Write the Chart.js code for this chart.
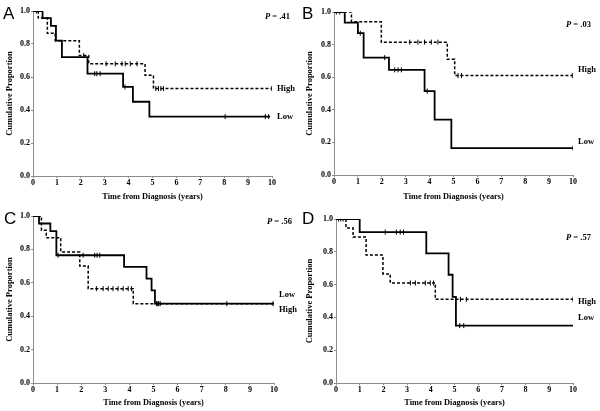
<!DOCTYPE html>
<html>
<head>
<meta charset="utf-8">
<script src="https://cdn.jsdelivr.net/npm/chart.js@4"></script>
<style>
  html, body { margin: 0; padding: 0; background: #fff; }
  #wrap { position: relative; width: 600px; height: 411px; }
  canvas { position: absolute; }
</style>
</head>
<body>
<div id="wrap">
  <canvas id="cA" width="300" height="205" style="left:0;top:0"></canvas>
  <canvas id="cB" width="300" height="205" style="left:300px;top:0"></canvas>
  <canvas id="cC" width="300" height="206" style="left:0;top:205px"></canvas>
  <canvas id="cD" width="300" height="206" style="left:300px;top:205px"></canvas>
</div>
<script>
// Kaplan-Meier curves, times in years and cumulative proportion
const xTicks = [0, 1, 2, 3, 4, 5, 6, 7, 8, 9, 10]
const yTicks = [0, 0.2, 0.4, 0.6, 0.8, 1.0]

// Panel A
const aLowT = [0, 0.40, 0.75, 0.96, 1.21, 2.28, 3.77, 4.18, 4.87, 9.92]
const aLowS = [1, 0.957, 0.91, 0.82, 0.72, 0.62, 0.54, 0.45, 0.36, 0.36]
const aLowCensT = [0.14, 2.58, 2.67, 2.81, 3.85, 8.04, 9.72, 9.86]
const aLowCensS = [1, 0.62, 0.62, 0.62, 0.54, 0.36, 0.36, 0.36]
const aHighT = [0, 0.22, 0.60, 0.93, 1.94, 2.33, 4.69, 5.04, 9.99]
const aHighS = [1, 0.957, 0.865, 0.82, 0.73, 0.68, 0.61, 0.53, 0.53]
const aHighCensT = [2.12, 3.06, 3.44, 3.72, 3.86, 4.07, 4.35, 5.14, 5.25, 5.35, 5.46, 9.99]
const aHighCensS = [0.73, 0.68, 0.68, 0.68, 0.68, 0.68, 0.68, 0.53, 0.53, 0.53, 0.53, 0.53]

// Panel B
const bLowT = [0, 0.45, 1.0, 1.24, 2.30, 3.79, 4.21, 4.91, 10.0]
const bLowS = [1, 0.935, 0.87, 0.72, 0.645, 0.515, 0.34, 0.165, 0.165]
const bLowCensT = [0.1, 0.24, 1.1, 2.12, 2.54, 2.68, 2.82, 3.9, 10.0]
const bLowCensS = [1, 1, 0.87, 0.72, 0.645, 0.645, 0.645, 0.515, 0.165]
const bHighT = [0, 0.73, 1.98, 4.74, 5.05, 9.97]
const bHighS = [1, 0.94, 0.815, 0.71, 0.61, 0.61]
const bHighCensT = [3.17, 3.51, 3.79, 4.07, 4.35, 5.19, 5.33, 9.97]
const bHighCensS = [0.815, 0.815, 0.815, 0.815, 0.815, 0.61, 0.61, 0.61]

// Panel C
const cLowT = [0, 0.25, 0.72, 0.97, 3.78, 4.71, 4.92, 5.06, 10]
const cLowS = [1, 0.955, 0.91, 0.765, 0.695, 0.625, 0.555, 0.475, 0.475]
const cLowCensT = [1.04, 2.08, 2.56, 2.66, 2.77, 5.12, 5.2, 5.28, 8.04, 9.96]
const cLowCensS = [0.765, 0.765, 0.765, 0.765, 0.765, 0.475, 0.475, 0.475, 0.475, 0.475]
const cHighT = [0, 0.35, 0.55, 1.15, 1.94, 2.29, 4.16, 10]
const cHighS = [1, 0.915, 0.87, 0.785, 0.70, 0.565, 0.475, 0.475]
const cHighCensT = [2.63, 2.91, 3.12, 3.32, 3.53, 3.74, 3.95, 4.09, 5.15, 5.22]
const cHighCensS = [0.565, 0.565, 0.565, 0.565, 0.565, 0.565, 0.565, 0.565, 0.475, 0.475]

// Panel D
const dLowT = [0, 1.0, 3.81, 4.75, 4.92, 5.06, 10.0]
const dLowS = [1, 0.92, 0.79, 0.66, 0.525, 0.35, 0.35]
const dLowCensT = [0.11, 0.3, 2.08, 2.55, 2.71, 2.85, 5.22, 5.39]
const dLowCensS = [1, 1, 0.92, 0.92, 0.92, 0.92, 0.35, 0.35]
const dHighT = [0, 0.42, 0.72, 1.27, 1.98, 2.29, 4.19, 10]
const dHighS = [1, 0.945, 0.89, 0.78, 0.665, 0.61, 0.51, 0.51]
const dHighCensT = [0.2, 3.14, 3.35, 3.77, 3.98, 4.12, 5.25, 5.5, 10]
const dHighCensS = [1, 0.61, 0.61, 0.61, 0.61, 0.61, 0.51, 0.51, 0.51]

const panels = [
   { id: 'cA', letter: 'A', p: '.41', pY: 0.966, letterX: 3,
     low: [aLowT, aLowS, aLowCensT, aLowCensS], high: [aHighT, aHighS, aHighCensT, aHighCensS],
     lowLabelY: 0.36, highLabelY: 0.53,
     area: { left: 33, right: 272, top: 11, bottom: 176 } },
   { id: 'cB', letter: 'B', p: '.03', pY: 0.922, letterX: 2,
     low: [bLowT, bLowS, bLowCensT, bLowCensS], high: [bHighT, bHighS, bHighCensT, bHighCensS],
     lowLabelY: 0.205, highLabelY: 0.645,
     area: { left: 34, right: 273, top: 12, bottom: 175 } },
   { id: 'cC', letter: 'C', p: '.56', pY: 0.964, letterX: 4,
     low: [cLowT, cLowS, cLowCensT, cLowCensS], high: [cHighT, cHighS, cHighCensT, cHighCensS],
     lowLabelY: 0.529, highLabelY: 0.441,
     area: { left: 33, right: 274, top: 11, bottom: 178 } },
   { id: 'cD', letter: 'D', p: '.57', pY: 0.888, letterX: 2,
     low: [dLowT, dLowS, dLowCensT, dLowCensS], high: [dHighT, dHighS, dHighCensT, dHighCensS],
     lowLabelY: 0.40, highLabelY: 0.497,
     area: { left: 36, right: 273, top: 14, bottom: 178 } }
]

const SERIF = "'Liberation Serif', 'Times New Roman', serif"
const AXIS_GRAY = '#8c8c8c'

function toPoints(xs, ys) {
   return xs.map((x, i) => ({ x: x, y: ys[i] }))
}

const annotatePlugin = {
   id: 'annotate',
   afterDraw(chart, args, opts) {
      const ctx = chart.ctx
      const area = chart.chartArea
      const y = chart.scales.y
      ctx.save()
      ctx.fillStyle = '#000'
      ctx.textBaseline = 'middle'
      ctx.textAlign = 'left'
      ctx.font = 'bold 8.5px ' + SERIF
      ctx.fillText('High', area.right + 5, y.getPixelForValue(opts.highLabelY))
      ctx.fillText('Low', area.right + 5, y.getPixelForValue(opts.lowLabelY))

      // P value, italic P
      let px = area.right - 7
      const py = y.getPixelForValue(opts.pY)
      ctx.font = 'italic bold 8.5px ' + SERIF
      ctx.fillText('P', px, py)
      px += ctx.measureText('P ').width
      ctx.font = 'bold 8.5px ' + SERIF
      ctx.fillText('= ' + opts.p, px, py)

      // panel letter
      ctx.font = "17px 'Liberation Sans', Arial, sans-serif"
      ctx.textBaseline = 'alphabetic'
      ctx.fillText(opts.letter, opts.letterX, 19)
      ctx.restore()
   }
}

function renderPanel(pn) {
   const el = document.getElementById(pn.id)
   const a = pn.area
   const [lt, ls, lct, lcs] = pn.low
   const [ht, hs, hct, hcs] = pn.high

   new Chart(el, {
      type: 'scatter',
      data: {
         datasets: [
            {
               label: 'High',
               data: toPoints(ht, hs),
               showLine: true,
               stepped: true,
               borderColor: '#000',
               borderWidth: 1.5,
               borderDash: [3, 2],
               pointRadius: 0
            },
            {
               label: 'Low',
               data: toPoints(lt, ls),
               showLine: true,
               stepped: true,
               borderColor: '#000',
               borderWidth: 1.8,
               pointRadius: 0
            },
            {
               label: 'High censored',
               data: toPoints(hct, hcs),
               pointStyle: 'line',
               rotation: 90,
               pointRadius: 2.5,
               borderColor: '#000',
               pointBorderWidth: 1
            },
            {
               label: 'Low censored',
               data: toPoints(lct, lcs),
               pointStyle: 'line',
               rotation: 90,
               pointRadius: 2.5,
               borderColor: '#000',
               pointBorderWidth: 1
            }
         ]
      },
      options: {
         responsive: false,
         animation: false,
         events: [],
         layout: {
            padding: { left: 0, top: a.top, right: el.width - a.right, bottom: 0 }
         },
         plugins: {
            legend: { display: false },
            tooltip: { enabled: false },
            annotate: pn
         },
         scales: {
            x: {
               type: 'linear',
               min: 0,
               max: 10,
               afterFit: s => { s.height = el.height - a.bottom },
               afterBuildTicks: s => { s.ticks = xTicks.map(v => ({ value: v })) },
               border: { color: AXIS_GRAY, width: 1 },
               grid: { drawOnChartArea: false, tickLength: 2, color: AXIS_GRAY },
               ticks: {
                  padding: 0,
                  color: '#000',
                  maxRotation: 0,
                  font: { family: SERIF, size: 8, weight: 'bold' }
               },
               title: {
                  display: true,
                  text: 'Time from Diagnosis (years)',
                  color: '#000',
                  padding: { top: 0, bottom: 3 },
                  font: { family: SERIF, size: 8.3, weight: 'bold' }
               }
            },
            y: {
               type: 'linear',
               min: 0,
               max: 1,
               afterFit: s => { s.width = a.left },
               afterBuildTicks: s => { s.ticks = yTicks.map(v => ({ value: v })) },
               border: { color: AXIS_GRAY, width: 1 },
               grid: { drawOnChartArea: false, tickLength: 2, color: AXIS_GRAY },
               ticks: {
                  padding: 1,
                  color: '#000',
                  font: { family: SERIF, size: 8, weight: 'bold' },
                  callback: v => v.toFixed(1)
               },
               title: {
                  display: true,
                  text: 'Cumulative Proportion',
                  color: '#000',
                  padding: { top: 5, bottom: 0 },
                  font: { family: SERIF, size: 8.5, weight: 'bold' }
               }
            }
         }
      },
      plugins: [annotatePlugin]
   })
}

panels.forEach(renderPanel)
</script>
</body>
</html>
